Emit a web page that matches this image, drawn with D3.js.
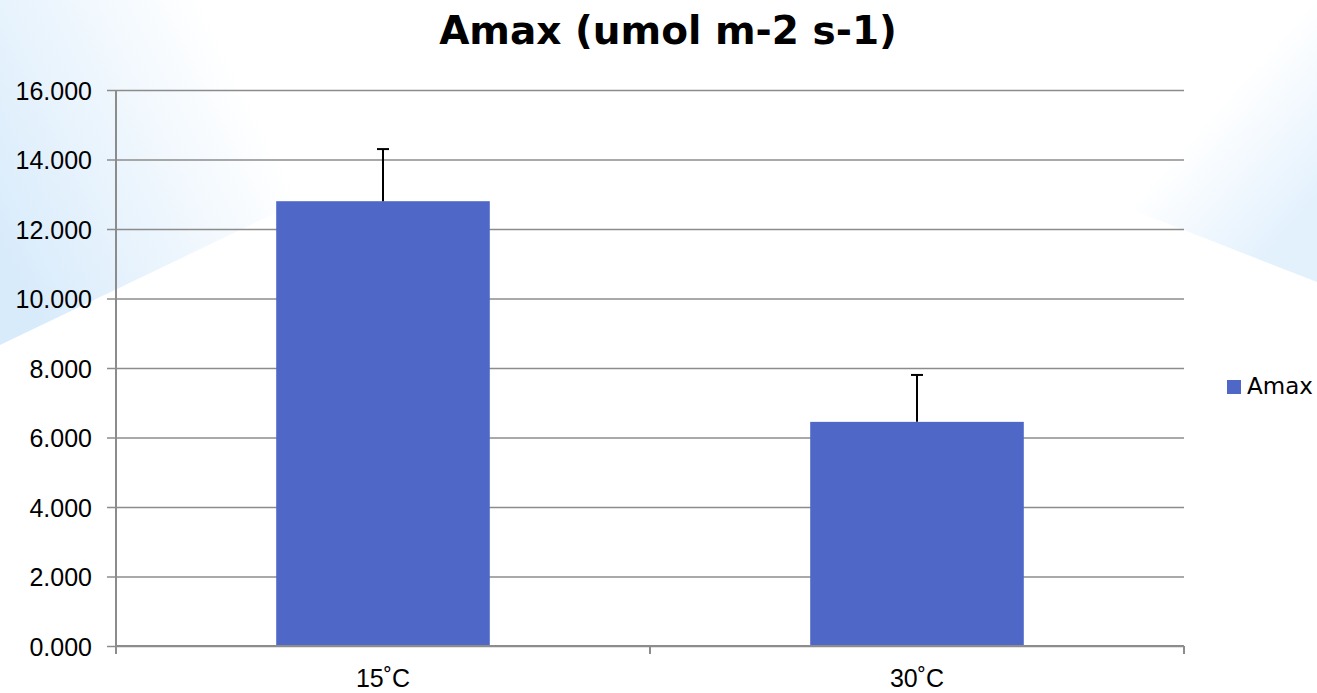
<!DOCTYPE html>
<html>
<head>
<meta charset="utf-8">
<script src="https://cdn.jsdelivr.net/npm/d3@7.9.0/dist/d3.min.js"></script>
<style>
  html, body { margin: 0; padding: 0; background: #fff; }
  svg { display: block; font-family: "DejaVu Sans", sans-serif; }
</style>
</head>
<body>
<svg id="chart" width="1317" height="693"></svg>
<script>
const categories = ['15˚C', '30˚C'];
const seriesName = 'Amax';
const amaxValues = [12.8, 6.45];
const amaxErrors = [1.5, 1.35];
const yTicks = [0, 2, 4, 6, 8, 10, 12, 14, 16];
const chartTitle = 'Amax (umol m-2 s-1)';

const width = 1317, height = 693;
const plot = { left: 116, right: 1184, top: 90, bottom: 646 };
const barColor = '#4f68c8';
const gridColor = '#8c8c8c';

const svg = d3.select('#chart');

// slide background: two pale blue corner shapes
const defs = svg.append('defs');
const gl = defs.append('linearGradient').attr('id', 'bgLeft')
  .attr('gradientUnits', 'userSpaceOnUse')
  .attr('x1', 0).attr('y1', 250).attr('x2', 260).attr('y2', 120);
gl.append('stop').attr('offset', 0).attr('stop-color', '#d8ebfb');
gl.append('stop').attr('offset', 1).attr('stop-color', '#ffffff');

const gr = defs.append('linearGradient').attr('id', 'bgRight')
  .attr('gradientUnits', 'userSpaceOnUse')
  .attr('x1', 1317).attr('y1', 200).attr('x2', 1215).attr('y2', 110);
gr.append('stop').attr('offset', 0).attr('stop-color', '#e3f1fd');
gr.append('stop').attr('offset', 1).attr('stop-color', '#ffffff');

svg.append('polygon')
  .attr('points', '0,0 720,0 0,345')
  .attr('fill', 'url(#bgLeft)');
svg.append('polygon')
  .attr('points', '595,0 1317,0 1317,282')
  .attr('fill', 'url(#bgRight)');

const x = d3.scaleBand()
  .domain(categories)
  .range([plot.left, plot.right])
  .paddingInner(0.6)
  .paddingOuter(0.3);

const y = d3.scaleLinear()
  .domain([0, 16])
  .range([plot.bottom, plot.top]);

// gridlines + y labels
const yAxis = svg.append('g')
  .attr('transform', `translate(${plot.left - 9},0)`)
  .call(d3.axisLeft(y)
    .tickValues(yTicks)
    .tickFormat(d3.format('.3f'))
    .tickSizeInner(-(plot.right - plot.left + 9))
    .tickSizeOuter(0)
    .tickPadding(15));
yAxis.select('.domain').remove();
yAxis.selectAll('.tick line')
  .attr('stroke', gridColor)
  .attr('stroke-width', 1.6);
yAxis.selectAll('.tick text')
  .attr('fill', '#000')
  .attr('font-size', 25)
  .attr('dy', '0.36em');

// vertical axis line
svg.append('line')
  .attr('x1', plot.left).attr('x2', plot.left)
  .attr('y1', plot.top).attr('y2', plot.bottom + 8)
  .attr('stroke', gridColor).attr('stroke-width', 2);

// category boundary ticks on the x axis
const boundaries = [plot.left, plot.left + x.step(), plot.right];
svg.selectAll('.xtick')
  .data(boundaries)
  .join('line')
  .attr('class', 'xtick')
  .attr('x1', d => d).attr('x2', d => d)
  .attr('y1', plot.bottom).attr('y2', plot.bottom + 8)
  .attr('stroke', gridColor).attr('stroke-width', 2);

// bars
svg.selectAll('.bar')
  .data(amaxValues)
  .join('rect')
  .attr('class', 'bar')
  .attr('x', (d, i) => x(categories[i]))
  .attr('width', x.bandwidth())
  .attr('y', d => y(d))
  .attr('height', d => y(0) - y(d))
  .attr('fill', barColor);

// error bars (plus only)
const err = svg.selectAll('.err')
  .data(amaxValues)
  .join('g')
  .attr('class', 'err')
  .attr('transform', (d, i) => `translate(${x(categories[i]) + x.bandwidth() / 2},0)`);
err.append('line')
  .attr('x1', 0).attr('x2', 0)
  .attr('y1', d => y(d))
  .attr('y2', (d, i) => y(d + amaxErrors[i]))
  .attr('stroke', '#000').attr('stroke-width', 2);
err.append('line')
  .attr('x1', -6).attr('x2', 6)
  .attr('y1', (d, i) => y(d + amaxErrors[i]))
  .attr('y2', (d, i) => y(d + amaxErrors[i]))
  .attr('stroke', '#000').attr('stroke-width', 2);

// x axis line at zero
svg.append('line')
  .attr('x1', plot.left).attr('x2', plot.right)
  .attr('y1', plot.bottom).attr('y2', plot.bottom)
  .attr('stroke', gridColor).attr('stroke-width', 2);

// category labels
const xAxis = svg.append('g')
  .attr('transform', `translate(0,${plot.bottom})`)
  .call(d3.axisBottom(x).tickSize(0).tickPadding(23));
xAxis.select('.domain').remove();
xAxis.selectAll('.tick text')
  .attr('fill', '#000')
  .attr('font-size', 25);

// legend
const legend = svg.append('g').attr('transform', 'translate(1227,380)');
legend.append('rect')
  .attr('width', 14).attr('height', 14)
  .attr('fill', barColor);
legend.append('text')
  .attr('x', 20).attr('y', 14)
  .attr('font-size', 23)
  .text(seriesName);

// title
svg.append('text')
  .attr('x', 668).attr('y', 44)
  .attr('text-anchor', 'middle')
  .attr('font-size', 39)
  .attr('font-weight', 'bold')
  .text(chartTitle);
</script>
</body>
</html>
